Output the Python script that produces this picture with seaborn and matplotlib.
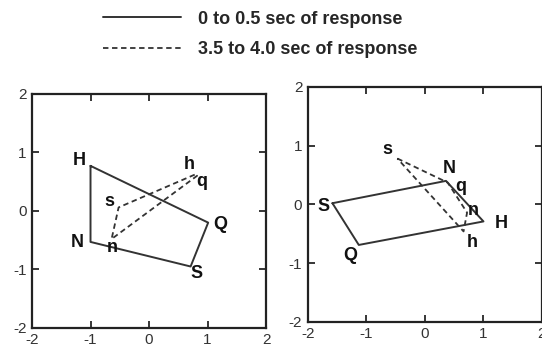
import matplotlib
matplotlib.use("Agg")
import matplotlib.pyplot as plt
from matplotlib.lines import Line2D
import pandas as pd
import seaborn as sns


# left panel: solid polygon (0 to 0.5 sec) and dashed (3.5 to 4.0 sec)
izq_solid_lab = ["H", "Q", "S", "N"]
izq_solid_x = [-1.0, 1.01, 0.71, -1.0]
izq_solid_y = [0.77, -0.2, -0.95, -0.53]
izq_dash_lab = ["h", "s", "n", "q"]
izq_dash_x = [0.78, -0.52, -0.64, 0.82]
izq_dash_y = [0.62, 0.06, -0.48, 0.6]

# right panel
der_solid_lab = ["S", "N", "H", "Q"]
der_solid_x = [-1.58, 0.36, 1.0, -1.13]
der_solid_y = [0.02, 0.4, -0.29, -0.69]
der_dash_lab = ["s", "q", "n", "h"]
der_dash_x = [-0.47, 0.39, 0.72, 0.66]
der_dash_y = [0.78, 0.37, -0.14, -0.46]

# where the letters go
izq_txt = {"H": (-1.2, 0.87), "N": (-1.22, -0.54), "n": (-0.63, -0.63),
           "s": (-0.67, 0.16), "h": (0.68, 0.79), "q": (0.9, 0.5),
           "Q": (1.21, -0.24), "S": (0.81, -1.07)}
der_txt = {"s": (-0.64, 0.93), "N": (0.42, 0.61), "q": (0.61, 0.3),
           "n": (0.82, -0.11), "H": (1.3, -0.33), "h": (0.81, -0.65),
           "S": (-1.73, -0.03), "Q": (-1.27, -0.87)}

ticks = [-2, -1, 0, 1, 2]
etiquetas = ["0 to 0.5 sec of response", "3.5 to 4.0 sec of response"]
color = "#333333"


def cerrar(xs, ys):
    # repetir el primer punto para cerrar el poligono
    return pd.DataFrame({"x": xs + xs[:1], "y": ys + ys[:1], "o": range(len(xs) + 1)})


def panel(ax, sx, sy, dx, dy, textos):
    sns.lineplot(data=cerrar(sx, sy), x="x", y="y", sort=False, estimator=None,
                 ax=ax, color=color, lw=1.4)
    sns.lineplot(data=cerrar(dx, dy), x="x", y="y", sort=False, estimator=None,
                 ax=ax, color=color, lw=1.3, linestyle=(0, (3, 2)))
    for k, (tx, ty) in textos.items():
        ax.text(tx, ty, k, ha="center", va="center", fontsize=13,
                fontweight="bold", color="#111111")
    ax.set_xlim(-2, 2)
    ax.set_ylim(-2, 2)
    ax.set_xticks(ticks)
    ax.set_yticks(ticks)
    ax.set_xticklabels([str(t) for t in ticks])
    ax.set_yticklabels([str(t) for t in ticks])
    ax.set_xlabel("")
    ax.set_ylabel("")
    ax.tick_params(direction="in", length=5, width=1.3, top=True, right=True,
                   labelsize=11, labelcolor="#333333", pad=4)
    for sp in ax.spines.values():
        sp.set_visible(True)
        sp.set_linewidth(1.6)
        sp.set_color("#222222")


def main():
    sns.set_style("ticks")
    plt.rcParams["font.family"] = ["Liberation Sans", "DejaVu Sans"]
    fig = plt.figure(figsize=(5.42, 3.53), dpi=100)
    ax1 = fig.add_axes([0.059, 0.071, 0.432, 0.663])
    ax2 = fig.add_axes([0.568, 0.088, 0.432, 0.666])
    panel(ax1, izq_solid_x, izq_solid_y, izq_dash_x, izq_dash_y, izq_txt)
    panel(ax2, der_solid_x, der_solid_y, der_dash_x, der_dash_y, der_txt)

    handles = [Line2D([], [], color=color, lw=1.4),
               Line2D([], [], color=color, lw=1.3, linestyle=(0, (3, 2)))]
    fig.legend(handles, etiquetas, loc="upper left", bbox_to_anchor=(0.19, 0.97),
               frameon=False, prop={"size": 13, "weight": "bold"},
               handlelength=4.3, handletextpad=0.95, labelspacing=0.75,
               borderpad=0, borderaxespad=0)
    fig.savefig("out.png", dpi=100)


if __name__ == '__main__':
    main()
